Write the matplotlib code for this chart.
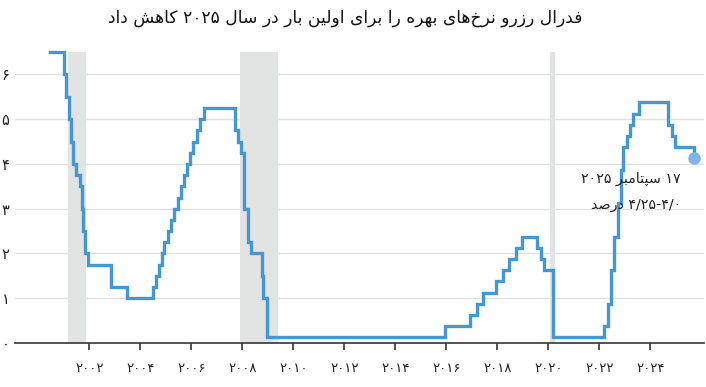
import matplotlib
matplotlib.use("Agg")
import matplotlib.pyplot as plt
import pandas as pd

# ---------------- data ----------------
rate_dates = [
    "2000-06-15", "2001-01-03", "2001-01-31", "2001-03-20", "2001-04-18", "2001-05-15",
    "2001-06-27", "2001-08-21", "2001-09-17", "2001-10-02", "2001-11-06", "2001-12-11",
    "2002-11-06", "2003-06-25", "2004-06-30", "2004-08-10", "2004-09-21", "2004-11-10",
    "2004-12-14", "2005-02-02", "2005-03-22", "2005-05-03", "2005-06-30", "2005-08-09",
    "2005-09-20", "2005-11-01", "2005-12-13", "2006-01-31", "2006-03-28", "2006-05-10",
    "2006-06-29", "2007-09-18", "2007-10-31", "2007-12-11", "2008-01-22", "2008-01-30",
    "2008-03-18", "2008-04-30", "2008-10-08", "2008-10-29", "2008-12-16", "2015-12-16",
    "2016-12-14", "2017-03-15", "2017-06-14", "2017-12-13", "2018-03-21", "2018-06-13",
    "2018-09-26", "2018-12-19", "2019-07-31", "2019-09-18", "2019-10-30", "2020-03-03",
    "2020-03-15", "2022-03-16", "2022-05-04", "2022-06-15", "2022-07-27", "2022-09-21",
    "2022-11-02", "2022-12-14", "2023-02-01", "2023-03-22", "2023-05-03", "2023-07-26",
    "2024-09-18", "2024-11-07", "2024-12-18", "2025-09-17",
]
rate_values = [
    6.5, 6.0, 5.5, 5.0, 4.5, 4.0,
    3.75, 3.5, 3.0, 2.5, 2.0, 1.75,
    1.25, 1.0, 1.25, 1.5, 1.75, 2.0,
    2.25, 2.5, 2.75, 3.0, 3.25, 3.5,
    3.75, 4.0, 4.25, 4.5, 4.75, 5.0,
    5.25, 4.75, 4.5, 4.25, 3.5, 3.0,
    2.25, 2.0, 1.5, 1.0, 0.125, 0.375,
    0.625, 0.875, 1.125, 1.375, 1.625, 1.875,
    2.125, 2.375, 2.125, 1.875, 1.625, 1.125,
    0.125, 0.375, 0.875, 1.625, 2.375, 3.125,
    3.875, 4.375, 4.625, 4.875, 5.125, 5.375,
    4.875, 4.625, 4.375, 4.125,
]
recession_starts = ["2001-03-01", "2007-12-01", "2020-02-01"]
recession_ends = ["2001-11-15", "2009-06-01", "2020-04-01"]

year_ticks = list(range(2002, 2025, 2))
y_ticks = [0, 1, 2, 3, 4, 5, 6]

title_text = "فدرال رزرو نرخ‌های بهره را برای اولین بار در سال ۲۰۲۵ کاهش داد"
note_line1 = "۱۷ سپتامبر ۲۰۲۵"
note_line2 = "۴/۲۵-۴/۰ درصد"

# ---------------- Persian shaping (presentation forms + visual order) ----------------
FORMS = {
    '\u0627': ('\uFE8D', '\uFE8E', None, None),
    '\u0628': ('\uFE8F', '\uFE90', '\uFE91', '\uFE92'),
    '\u067E': ('\uFB56', '\uFB57', '\uFB58', '\uFB59'),
    '\u062A': ('\uFE95', '\uFE96', '\uFE97', '\uFE98'),
    '\u062E': ('\uFEA5', '\uFEA6', '\uFEA7', '\uFEA8'),
    '\u062F': ('\uFEA9', '\uFEAA', None, None),
    '\u0631': ('\uFEAD', '\uFEAE', None, None),
    '\u0632': ('\uFEAF', '\uFEB0', None, None),
    '\u0633': ('\uFEB1', '\uFEB2', '\uFEB3', '\uFEB4'),
    '\u0634': ('\uFEB5', '\uFEB6', '\uFEB7', '\uFEB8'),
    '\u0635': ('\uFEB9', '\uFEBA', '\uFEBB', '\uFEBC'),
    '\u0641': ('\uFED1', '\uFED2', '\uFED3', '\uFED4'),
    '\u06A9': ('\uFB8E', '\uFB8F', '\uFB90', '\uFB91'),
    '\u0644': ('\uFEDD', '\uFEDE', '\uFEDF', '\uFEE0'),
    '\u0645': ('\uFEE1', '\uFEE2', '\uFEE3', '\uFEE4'),
    '\u0646': ('\uFEE5', '\uFEE6', '\uFEE7', '\uFEE8'),
    '\u0647': ('\uFEE9', '\uFEEA', '\uFEEB', '\uFEEC'),
    '\u0648': ('\uFEED', '\uFEEE', None, None),
    '\u06CC': ('\uFBFC', '\uFBFD', '\uFBFE', '\uFBFF'),
}
NUMCH = set("۰۱۲۳۴۵۶۷۸۹0123456789/-.")


def fa(text):
    chars = list(text)
    out = []
    for i, c in enumerate(chars):
        if c == '\u200c':
            continue
        if c not in FORMS:
            out.append(c)
            continue
        prev = chars[i - 1] if i > 0 else None
        nxt = chars[i + 1] if i + 1 < len(chars) else None
        pj = prev in FORMS and FORMS[prev][2] is not None
        dual = FORMS[c][2] is not None
        nj = dual and nxt in FORMS
        iso, fin, ini, med = FORMS[c]
        if pj and nj:
            out.append(med)
        elif pj:
            out.append(fin)
        elif nj:
            out.append(ini)
        else:
            out.append(iso)
    out.reverse()
    res, run = [], []
    for c in out:
        if c in NUMCH:
            run.append(c)
        else:
            if run:
                res.extend(reversed(run))
                run = []
            res.append(c)
    if run:
        res.extend(reversed(run))
    return "".join(res)


def to_year(dates):
    d = pd.to_datetime(pd.Series(dates))
    days = 365 + d.dt.is_leap_year.astype(int)
    return (d.dt.year + (d.dt.dayofyear - 1) / days).to_numpy()


def fa_digits(s):
    return str(s).translate(str.maketrans("0123456789", "۰۱۲۳۴۵۶۷۸۹"))


# ---------------- plot ----------------
plt.rcParams['font.family'] = ['DejaVu Sans']
BLUE = "#4597d3"
fig = plt.figure(figsize=(7.06, 3.87), dpi=100)
ax = fig.add_axes([15 / 706, 44 / 387, 689 / 706, 291 / 387])

x = to_year(rate_dates)
rs = to_year(recession_starts)
re_ = to_year(recession_ends)
for a, b in zip(rs, re_):
    ax.axvspan(a, b, color="#e2e3e3", lw=0, zorder=1)

for yv in y_ticks[1:]:
    ax.axhline(yv, color="#e1e1e1", lw=1.0, zorder=0.5)

ax.step(x, rate_values, where="post", color=BLUE, lw=2.4, zorder=3,
        clip_on=False, solid_joinstyle="miter")
ax.plot(x[-1], rate_values[-1], "o", ms=9, color="#7cb6e4", mec="none",
        zorder=4, clip_on=False)

ax.set_xlim(1999.09, 2026.11)
ax.set_ylim(0, 6.5)

for s in ["top", "right", "left"]:
    ax.spines[s].set_visible(False)
ax.spines["bottom"].set_color("#444444")
ax.spines["bottom"].set_linewidth(1.3)
ax.spines["bottom"].set_zorder(5)

ax.set_xticks(year_ticks)
ax.set_xticklabels([fa_digits(t) for t in year_ticks], fontsize=9.5, color="#222222")
ax.tick_params(axis="x", length=5, width=1.2, color="#333333", pad=9)
ax.set_yticks(y_ticks)
ax.set_yticklabels([fa_digits(t) for t in y_ticks], fontsize=10.5, color="#222222")
ax.tick_params(axis="y", length=0, pad=4)

ax.text(2025.2, 3.66, fa(note_line1), ha="right", va="center", fontsize=10.3,
        color="#222222", zorder=6)
ax.text(2025.2, 3.08, fa(note_line2), ha="right", va="center", fontsize=10.3,
        color="#222222", zorder=6)

fig.text(345 / 706, 1 - 18 / 387, fa(title_text), ha="center", va="center",
         fontsize=12.3, color="#111111")

fig.savefig("out.png", dpi=100)
